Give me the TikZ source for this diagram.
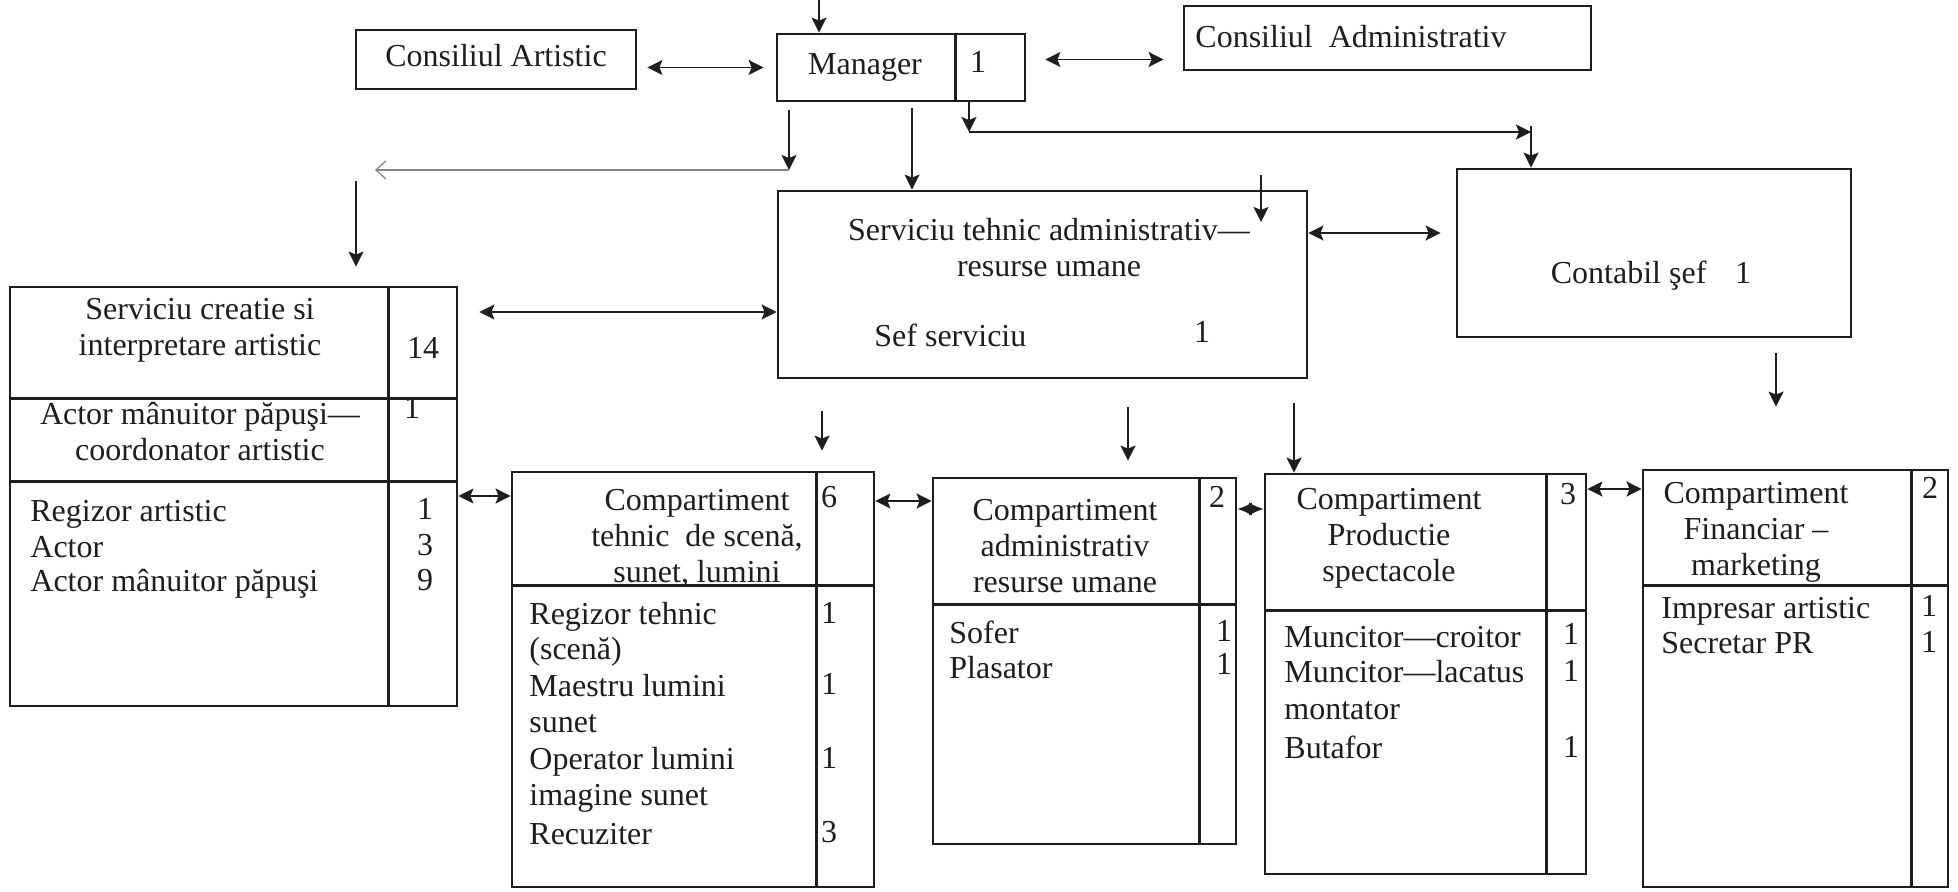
\documentclass[tikz,border=0pt]{standalone}
\usepackage{fontspec}
\setmainfont{Liberation Serif}
\usetikzlibrary{arrows.meta,calc}
\definecolor{ink}{RGB}{30,30,30}
\begin{document}
\begin{tikzpicture}[x=0.5pt,y=-0.5pt,
  box/.style={draw=ink, line width=1.4pt, rectangle, inner sep=0pt},
  txt/.style={inner sep=0pt, font=\fontsize{16}{18}\selectfont, text=ink},
  ctr/.style={txt, anchor=mid, yshift=-3pt},
  lft/.style={txt, anchor=mid west, yshift=-3pt},
  hdr/.style={txt, align=center, anchor=center},
  arr/.style={draw=ink, line width=0.9pt, -{Stealth[length=7.5pt,width=7.5pt,inset=1.5pt]}},
  dbl/.style={draw=ink, line width=0.9pt, {Stealth[length=7.5pt,width=7.5pt,inset=1.5pt]}-{Stealth[length=7.5pt,width=7.5pt,inset=1.5pt]}},
  diam/.style={draw=ink, line width=0.9pt, {Latex[length=7.2pt,width=6.5pt]}-{Latex[length=7.2pt,width=6.5pt]}},
  openarr/.style={draw=ink!55, line width=0.6pt, -{Straight Barb[length=5pt,width=9pt]}},
  div/.style={draw=ink, line width=1.4pt},
]
\useasboundingbox (0,0) rectangle (1958,892);
\fill[white] (0,0) rectangle (1958,892);

% ---------- boxes ----------
\node[box, minimum width=140pt, minimum height=29.5pt] (ca) at (496,59.5) {};
\node[box, minimum width=124pt, minimum height=33.5pt] (mgr) at (901,67.5) {};
\node[box, minimum width=203.5pt, minimum height=32pt] (cadm) at (1387.5,38) {};
\node[box, minimum width=264.5pt, minimum height=93.5pt] (stech) at (1042.5,284.5) {};
\node[box, minimum width=197pt, minimum height=84pt] (contabil) at (1654,253) {};
\node[box, minimum width=223.5pt, minimum height=209.5pt] (screat) at (233.5,496.5) {};
\node[box, minimum width=181pt, minimum height=207.5pt] (ctech) at (693,679.5) {};
\node[box, minimum width=151.5pt, minimum height=183pt] (cadmr) at (1084.5,661) {};
\node[box, minimum width=160.5pt, minimum height=200pt] (cprod) at (1425.5,674) {};
\node[box, minimum width=152.5pt, minimum height=208.5pt] (cfin) at (1795.5,678.5) {};

% ---------- dividers ----------
\draw[div] ($(mgr.north west)+(180,0)$) -- ($(mgr.south west)+(180,0)$);
\draw[div] ($(screat.north west)+(380,0)$) -- ($(screat.south west)+(380,0)$);
\draw[div] ($(screat.north west)+(0,113)$) -- ($(screat.north east)+(0,113)$);
\draw[div] ($(screat.north west)+(0,196)$) -- ($(screat.north east)+(0,196)$);
\draw[div] ($(ctech.north west)+(306,0)$) -- ($(ctech.south west)+(306,0)$);
\draw[div] ($(ctech.north west)+(0,115)$) -- ($(ctech.north east)+(0,115)$);
\draw[div] ($(cadmr.north west)+(268,0)$) -- ($(cadmr.south west)+(268,0)$);
\draw[div] ($(cadmr.north west)+(0,128)$) -- ($(cadmr.north east)+(0,128)$);
\draw[div] ($(cprod.north west)+(283,0)$) -- ($(cprod.south west)+(283,0)$);
\draw[div] ($(cprod.north west)+(0,138)$) -- ($(cprod.north east)+(0,138)$);
\draw[div] ($(cfin.north west)+(270,0)$) -- ($(cfin.south west)+(270,0)$);
\draw[div] ($(cfin.north west)+(0,117)$) -- ($(cfin.north east)+(0,117)$);

% ---------- texts ----------
\node[ctr] (t-ca) at (496,56) {Consiliul Artistic};
\node[ctr] (t-mgr) at (865,64) {Manager};
\node[ctr] (t-mgr1) at (978,62) {1};
\node[lft] (t-cadm) at (1195,37) {Consiliul\ \ Administrativ};

\node[hdr] (t-stech) at (1049,248) {Serviciu tehnic administrativ—\\resurse umane};
\node[lft] (t-sef) at (874,336) {Sef serviciu};
\node[ctr] (t-sef1) at (1202,332) {1};

\node[ctr] (t-cont) at (1651,273) {Contabil şef\hspace{0.9em}1};

\node[hdr] (t-sc1) at (200,330) {Serviciu creatie si\\interpretare artistic};
\node[ctr] (t-sc14) at (423,348) {14};
\node[hdr] (t-sc2) at (200,432) {Actor mânuitor păpuşi—\\coordonator artistic};
\node[ctr] (t-sc2n) at (412,408) {1};
\node[lft] (t-sc-i1) at (30,511) {Regizor artistic};
\node[lft] (t-sc-i2) at (30,547) {Actor};
\node[lft] (t-sc-i3) at (30,581) {Actor mânuitor păpuşi};
\node[ctr] (t-sc-n1) at (425,509) {1};
\node[ctr] (t-sc-n2) at (425,545) {3};
\node[ctr] (t-sc-n3) at (425,580) {9};

\node[hdr] (t-ct) at (697,538) {Compartiment\\tehnic\ \ de scenă,\\sunet, lumini};
\node[ctr] (t-ct6) at (829,497) {6};
\node[lft] (t-ct-i1) at (529,614) {Regizor tehnic};
\node[lft] (t-ct-i2) at (529,649) {(scenă)};
\node[lft] (t-ct-i3) at (529,686) {Maestru lumini};
\node[lft] (t-ct-i4) at (529,722) {sunet};
\node[lft] (t-ct-i5) at (529,759) {Operator lumini};
\node[lft] (t-ct-i6) at (529,795) {imagine sunet};
\node[lft] (t-ct-i7) at (529,834) {Recuziter};
\node[ctr] (t-ct-n1) at (829,613) {1};
\node[ctr] (t-ct-n2) at (829,684) {1};
\node[ctr] (t-ct-n3) at (829,758) {1};
\node[ctr] (t-ct-n4) at (829,832) {3};

\node[hdr] (t-ca2) at (1065,546) {Compartiment\\administrativ\\resurse umane};
\node[ctr] (t-ca2n) at (1217,497) {2};
\node[lft] (t-ca-i1) at (949,633) {Sofer};
\node[lft] (t-ca-i2) at (949,668) {Plasator};
\node[ctr] (t-ca-n1) at (1224,631) {1};
\node[ctr] (t-ca-n2) at (1224,664) {1};

\node[hdr] (t-cp) at (1389,538) {Compartiment\\Productie\\spectacole};
\node[ctr] (t-cp3) at (1568,494) {3};
\node[lft] (t-cp-i1) at (1284,637) {Muncitor—croitor};
\node[lft] (t-cp-i2) at (1284,672) {Muncitor—lacatus};
\node[lft] (t-cp-i3) at (1284,709) {montator};
\node[lft] (t-cp-i4) at (1284,748) {Butafor};
\node[ctr] (t-cp-n1) at (1571,634) {1};
\node[ctr] (t-cp-n2) at (1571,671) {1};
\node[ctr] (t-cp-n3) at (1571,747) {1};

\node[hdr] (t-cf) at (1756,532) {Compartiment\\Financiar –\\marketing};
\node[ctr] (t-cf2) at (1930,488) {2};
\node[lft] (t-cf-i1) at (1661,608) {Impresar artistic};
\node[lft] (t-cf-i2) at (1661,643) {Secretar PR};
\node[ctr] (t-cf-n1) at (1929,606) {1};
\node[ctr] (t-cf-n2) at (1929,642) {1};

% ---------- connectors ----------
\coordinate (topin) at (819,0);
\draw[arr] (topin) -- (topin |- mgr.north);

\draw[dbl, shorten <=5pt, shorten >=6pt] (ca.east |- mgr.west) -- (mgr.west);
\draw[dbl, shorten <=9.5pt, shorten >=9.5pt] ([yshift=4pt]mgr.east) -- ([yshift=4pt]mgr.east -| cadm.west);

% left branch
\coordinate (lb) at (789,170);
\coordinate (lt) at (375,170);
\draw[arr, shorten <=4pt] (mgr.south -| lb) -- (lb);
\draw[openarr] (lb) -- (lt);
\coordinate (ls) at (356,181);
\draw[arr, shorten >=9.5pt] (ls) -- (ls |- screat.north);

% manager -> serviciu tehnic
\draw[arr, shorten <=3pt] ([xshift=5.5pt]mgr.south) -- ([xshift=5.5pt]mgr.south |- stech.north);

% right branch
\coordinate (rb) at (969,132);
\coordinate (rc) at (1531,132);
\draw[arr] (mgr.south -| rb) -- (rb);
\draw[arr] (rb) -- (rc);
\draw[arr, shorten <=-3pt] (rc) -- (rc |- contabil.north);

\coordinate (s1) at (1261,175);
\coordinate (s2) at (1261,222);
\draw[arr] (s1) -- (s2);

\draw[dbl, shorten >=7.5pt] ([yshift=25.75pt]stech.east) -- ([yshift=25.75pt]stech.east -| contabil.west);

\coordinate (h312) at (0,312);
\draw[dbl, shorten <=10.5pt] (screat.east |- h312) -- (stech.west |- h312);

\coordinate (k) at (1776,0);
\draw[arr, shorten <=7.5pt, shorten >=31pt] (contabil.south -| k) -- (cfin.north -| k);

\coordinate (d1) at (822,0);
\coordinate (d2) at (1128,0);
\coordinate (d3) at (1294,0);
\draw[arr, shorten <=16pt, shorten >=10pt] (stech.south -| d1) -- (ctech.north -| d1);
\draw[arr, shorten <=14pt, shorten >=8pt] (stech.south -| d2) -- (cadmr.north -| d2);
\draw[arr, shorten <=12pt] (stech.south -| d3) -- (cprod.north -| d3);

\coordinate (h496) at (0,496);
\coordinate (h501) at (0,501);
\coordinate (h509) at (0,509);
\coordinate (h489) at (0,489);
\draw[dbl] (screat.east |- h496) -- (ctech.west |- h496);
\draw[dbl] (ctech.east |- h501) -- (cadmr.west |- h501);
\draw[diam] (cadmr.east |- h509) -- (cprod.west |- h509);
\draw[dbl] (cprod.east |- h489) -- (cfin.west |- h489);
\end{tikzpicture}
\end{document}
